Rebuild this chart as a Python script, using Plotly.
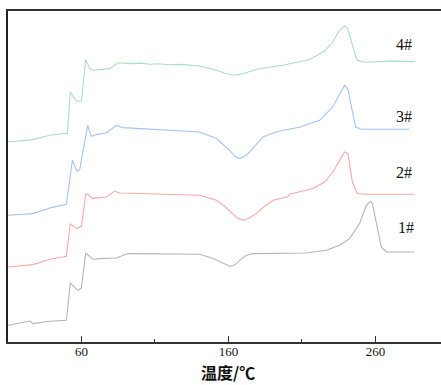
import plotly.graph_objects as go

# Temperature (°C) and heat-flow signal (arbitrary units, vertically offset) for each sample
t1 = [10, 24.8, 27.0, 38.4, 49.7, 52.4, 57.6, 59.9, 62.9, 67.8, 72.4, 83.7, 91.6, 140.4, 149.5,
      155.4, 160.8, 162.9, 165.4, 168.4, 172.2, 176.7, 213.0, 226.6, 235.6, 242.4, 249.2, 253.8,
      256.5, 257.9, 260.6, 264.0, 267.4, 286.6]
y1 = [16.7, 21.0, 18.4, 20.7, 21.7, 59.0, 51.7, 54.0, 89.0, 82.7, 83.4, 84.0, 88.4, 87.7, 83.4,
      79.7, 75.7, 76.2, 78.4, 82.7, 86.7, 88.4, 89.0, 91.7, 96.7, 103.4, 118.4, 136.7,
      140.7, 138.4, 118.4, 95.0, 90.0, 90.0]

t2 = [10, 27.0, 38.4, 49.7, 52.4, 56.9, 59.9, 62.9, 64.4, 67.4, 72.4, 76.9, 82.6, 86.0, 140.4,
      151.8, 157.4, 162.9, 166.3, 169.9, 173.1, 179.0, 183.3, 190.3, 198.2, 200.5, 201.6, 217.5,
      225.4, 231.1, 239.0, 241.3, 244.3, 247.4, 251.5, 286.6]
y2 = [75.0, 77.4, 82.7, 85.7, 118.4, 113.4, 115.7, 147.7, 147.7, 143.4, 144.4, 145.0, 151.0,
      149.0, 146.7, 141.7, 135.7, 128.4, 123.7, 121.7, 123.2, 128.4, 134.2, 141.7, 144.4, 145.2,
      147.7, 153.4, 160.0, 170.0, 190.0, 188.4, 160.0, 149.0, 147.7, 147.7]

t3 = [10, 26.8, 39.5, 48.6, 49.7, 53.8, 56.9, 58.8, 64.2, 66.7, 70.1, 76.9, 83.7, 88.2, 140.4,
      151.8, 157.4, 160.8, 164.3, 167.6, 171.0, 174.4, 177.8, 183.5, 188.0, 197.1, 208.4, 213.0,
      222.0, 230.9, 239.0, 241.3, 246.5, 250.4, 283.2]
y3 = [126.7, 128.4, 134.4, 137.4, 137.7, 181.7, 170.7, 172.4, 216.7, 205.7, 207.4, 209.0, 216.7,
      214.4, 210.0, 203.4, 196.7, 191.7, 185.7, 183.4, 185.7, 190.0, 195.7, 205.0, 207.7, 211.7,
      214.7, 217.2, 221.7, 235.0, 256.7, 252.4, 215.0, 212.7, 212.7]

t4 = [10, 26.8, 38.4, 49.7, 50.4, 52.4, 56.5, 59.9, 62.9, 65.6, 67.8, 72.4, 79.2, 84.8, 94.8,
      100.0, 106.4, 112.0, 120.0, 128.0, 140.4, 151.8, 158.0, 164.3, 171.0, 179.0, 196.9, 215.2,
      225.4, 230.9, 235.6, 239.0, 241.1, 243.0, 244.5, 246.5, 247.9, 252.6, 270.0, 286.6]
y4 = [200.0, 202.4, 206.7, 208.4, 208.7, 250.0, 240.7, 240.7, 282.4, 273.4, 271.7, 272.4, 273.4,
      279.2, 278.4, 278.9, 277.7, 278.3, 277.2, 277.6, 276.0, 271.7, 268.5, 266.7, 268.8, 272.7,
      276.7, 282.4, 291.0, 300.0, 311.7, 316.0, 313.4, 304.0, 295.0, 285.7, 281.7, 279.7, 280.9,
      280.4]

labels = ["1#", "2#", "3#", "4#"]
label_t = [280.6, 279.2, 279.2, 279.2]
label_y = [115.0, 170.0, 226.0, 297.4]

tick_vals = [60, 160, 260]
minor_vals = [110, 210]
x_title = "温度/℃"

colors = ["#b4b4b4", "#f7a9a9", "#a3c3f5", "#a9dfc0"]

fig = go.Figure()
for t, y, c in zip([t1, t2, t3, t4], [y1, y2, y3, y4], colors):
    fig.add_trace(go.Scatter(x=t, y=y, mode="lines", line=dict(color=c, width=1.1),
                             showlegend=False, hoverinfo="skip"))

for lab, lt, ly in zip(labels, label_t, label_y):
    fig.add_annotation(x=lt, y=ly, text=lab, showarrow=False,
                       font=dict(family="Liberation Serif", size=16, color="#111"))

# axis title placed along the bottom edge, below the tick labels
fig.add_annotation(x=0.507, y=-0.1305, xref="paper", yref="paper", text="<b>" + x_title + "</b>",
                   showarrow=False, xanchor="center", yanchor="bottom", borderpad=0,
                   font=dict(family="Noto Sans CJK SC", size=16, color="#111"))

fig.update_layout(
    width=441, height=385,
    margin=dict(l=8, r=0, t=11, b=43),
    paper_bgcolor="white", plot_bgcolor="white",
    xaxis=dict(
        range=[10, 304.6], showgrid=False, zeroline=False,
        showline=True, mirror=True, linecolor="#333", linewidth=2,
        tickvals=tick_vals, ticktext=[str(v) for v in tick_vals],
        ticks="inside", ticklen=6, tickwidth=1.2, tickcolor="#333",
        ticklabelstandoff=-4,
        minor=dict(tickvals=minor_vals, ticks="inside", ticklen=3, tickwidth=1, tickcolor="#333"),
        tickfont=dict(family="Liberation Serif", size=13, color="#111"),
    ),
    yaxis=dict(
        range=[0, 331], showgrid=False, zeroline=False,
        showline=True, linecolor="#222", linewidth=1.5,
        showticklabels=False, ticks="",
    ),
)

fig.write_html("out.html")
